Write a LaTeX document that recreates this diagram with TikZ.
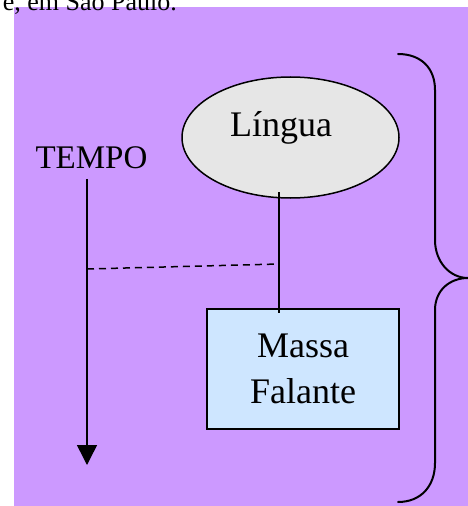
\documentclass[tikz,border=0pt]{standalone}
\usepackage{fontspec}
\setmainfont{Liberation Serif}
\usetikzlibrary{shapes.geometric,arrows.meta}
\definecolor{bgpurple}{RGB}{204,153,255}
\definecolor{ellgrey}{RGB}{230,230,230}
\definecolor{boxblue}{RGB}{206,230,255}
\tikzset{
  conn/.style={line width=1.5bp, black},
  bigtext/.style={font=\fontsize{36bp}{43bp}\selectfont, inner sep=0pt, anchor=base},
}
\begin{document}
\begin{tikzpicture}[x=1bp,y=-1bp]
\useasboundingbox (0,0) rectangle (468,506);
\clip (0,0) rectangle (468,506);
% background
\fill[bgpurple] (14,7) rectangle (468,506);
% caption fragment at top
\node[font=\fontsize{26bp}{30bp}\selectfont, inner sep=0pt, anchor=base east] (caption) at (177,11) {e, em São Paulo.};
% ellipse
\node[ellipse, draw, line width=1.5bp, fill=ellgrey, minimum width=217bp, minimum height=121bp, inner sep=0pt] (lingua) at (290.5,137.5) {};
\node[bigtext] (linguatext) at (281,136.5) {Língua};
% box
\node[rectangle, draw, line width=1.5bp, fill=boxblue, minimum width=192bp, minimum height=120bp, inner sep=0pt] (massa) at (303,369) {};
\node[bigtext] (massatext) at (303,357) {Massa};
\node[bigtext] (falantetext) at (303,403) {Falante};
% TEMPO
\node[font=\fontsize{33bp}{40bp}\selectfont, inner sep=0pt, anchor=base] (tempo) at (91.5,169) {TEMPO};
\coordinate (tstart) at (87,179);
\coordinate (tend) at (87,465);
\draw[conn, -{Triangle[length=20bp,width=20bp]}] (tstart) -- (tend);
% vertical link Lingua - Massa
\coordinate (ltop) at (279,192);
\coordinate (lbot) at (279,313);
\draw[conn] (ltop) -- (lbot);
% dashed link
\coordinate (dl) at (87,269);
\coordinate (dr) at (279,264);
\draw[conn, dash pattern=on 7bp off 5bp] (dl) -- (dr);
% brace
\coordinate (btop) at (398,54);
\coordinate (btip) at (468,278);
\coordinate (bbot) at (398,502);
\draw[line width=2bp, line cap=round] (btop) .. controls (421,54) and (435,68) .. (435,90)
  -- (435,240) .. controls (435,262) and (450,278) .. (btip)
  .. controls (450,278) and (435,290) .. (435,310)
  -- (435,463) .. controls (435,486) and (421,502) .. (bbot);
\end{tikzpicture}
\end{document}
